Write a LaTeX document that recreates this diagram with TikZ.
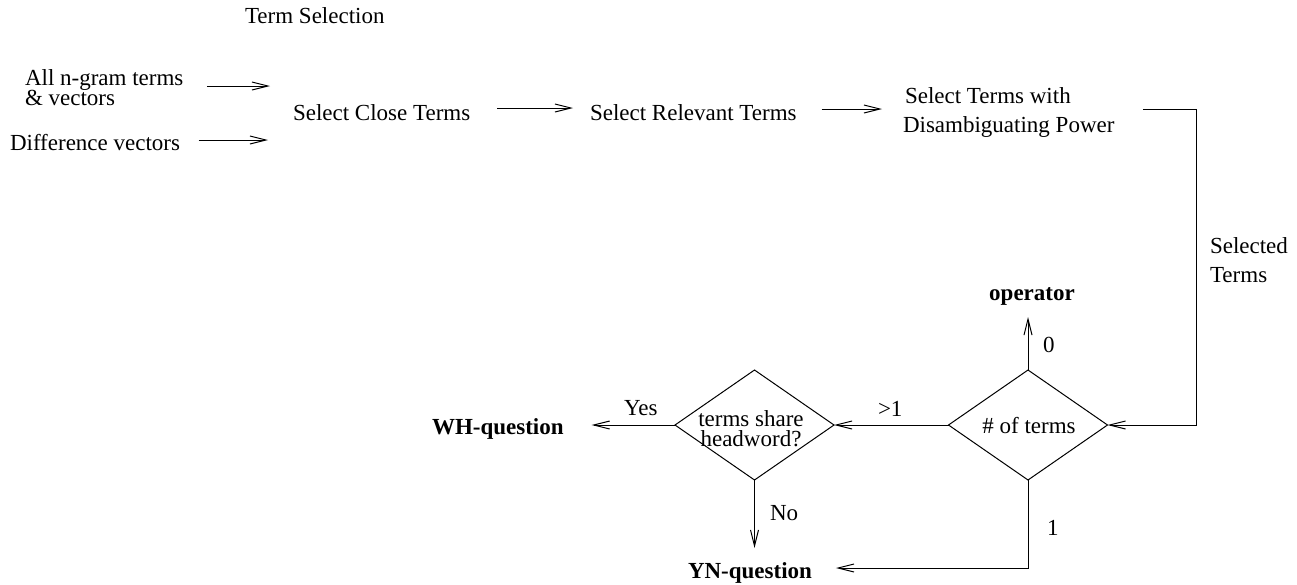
\documentclass[tikz,border=0pt]{standalone}
\usepackage{fontspec}
\setmainfont{Liberation Serif}
\usetikzlibrary{arrows.meta,shapes.geometric,calc}
\begin{document}
\begin{tikzpicture}[x=1pt,y=-1pt,
  txt/.style={inner sep=0pt,outer sep=0pt,font=\fontsize{23}{23}\selectfont},
  bld/.style={txt,font=\fontsize{23}{23}\selectfont\bfseries},
  dia/.style={draw,diamond,minimum width=159pt,minimum height=110pt,inner sep=0pt,outer sep=0pt,line width=1pt},
  arr/.style={line width=1pt,-{Straight Barb[length=16pt,width=8pt]}},
  ln/.style={line width=1pt}]
\useasboundingbox (0,0) rectangle (1297,584);

% texts of the selection row
\node[txt,anchor=base west] (ts)  at (245,23)  {Term Selection};
\node[txt,anchor=base west] (in1a) at (25,85)  {All n-gram terms};
\node[txt,anchor=base west] (in1b) at (25,105) {\& vectors};
\node[txt,anchor=base west] (in2)  at (10,150) {Difference vectors};
\node[txt,anchor=base west] (sc)   at (293,120) {Select Close Terms};
\node[txt,anchor=base west] (sr)   at (590,120) {Select Relevant Terms};
\node[txt,anchor=base west] (sd1)  at (905,103) {Select Terms with};
\node[txt,anchor=base west] (sd2)  at (903,132) {Disambiguating Power};
\node[txt,anchor=base west] (sel1) at (1210,253) {Selected};
\node[txt,anchor=base west] (sel2) at (1210,282) {Terms};

% decisions
\node[dia] (d1) at (1028,425) {};
\node[txt,anchor=base] (d1t) at (1029,433) {\# of terms};
\node[dia] (d2) at (754.5,425) {};
\node[txt,anchor=base] (d2a) at (751,426) {terms share};
\node[txt,anchor=base] (d2b) at (751,446) {headword?};

% outcomes
\node[bld,anchor=base] (op) at (1032,300) {operator};
\node[bld,anchor=base west] (wh) at (432,434) {WH-question};
\node[bld,anchor=base west] (yn) at (688,578) {YN-question};

% edge labels
\node[txt,anchor=base west] (l0)   at (1043,352) {0};
\node[txt,anchor=base west] (lgt)  at (878,416)  {>1};
\node[txt,anchor=base west] (lyes) at (624,415)  {Yes};
\node[txt,anchor=base west] (lno)  at (770,520)  {No};
\node[txt,anchor=base west] (l1)   at (1047,535) {1};

% connectors of the selection row
\draw[arr] ($(in1a.base east)+(23.5,1)$) -- ($(sc.west |- in1a.base)+(-23,1)$);
\draw[arr] ($(in2.base east)+(18.5,-10)$) -- ($(sc.west |- in2.base)+(-25,-10)$);
\draw[arr] ($(sc.base east)+(27,-12)$) -- ($(sr.base west)+(-17,-12)$);
\draw[arr] ($(sr.base east)+(25,-11)$) -- ($(sr.base east -| sd2.west)+(-21,-11)$);

\coordinate (s0) at ($(sd2.east |- sd1.base)+(28.5,6)$);
\coordinate (s1) at ($(sel1.west)+(-14,0)$);
\draw[arr] (s0) -| (s1 |- d1.east) -- (d1.east);

% connectors of the decisions
\draw[arr] (d1.north) -- ($(d1.north |- op.base)+(0,17)$);
\draw[arr] (d1.west) -- (d2.east);
\coordinate (whin) at ($(wh.east)+(28,0)$);
\draw[arr] (d2.west) -- (d2.west -| whin);
\draw[arr] (d2.south) -- ($(d2.south |- yn.base)+(0,-30)$);
\draw[arr] (d1.south) |- ($(yn.base east)+(24,-10)$);
\end{tikzpicture}
\end{document}
